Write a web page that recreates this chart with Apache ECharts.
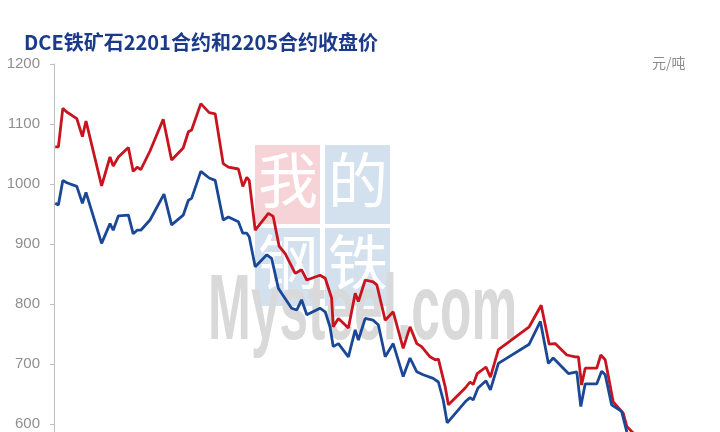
<!DOCTYPE html>
<html><head><meta charset="utf-8">
<script src="https://cdn.jsdelivr.net/npm/echarts@6/dist/echarts.min.js"></script>
<style>html,body{margin:0;padding:0;background:#fff}#c{width:720px;height:432px}</style>
</head><body><div id="c"></div>
<script>
// Trading-day position and closing prices (元/吨)
const c2201Day = [0.3,1.1,2.2,3.2,5.7,7.1,8.0,11.9,14.0,14.8,16.1,18.6,19.8,20.8,21.7,24.0,27.3,29.4,32.3,33.6,34.4,36.7,38.8,40.3,42.3,43.6,46.1,47.2,48.2,48.8,50.3,53.6,54.8,56.3,57.8,60.3,61.9,63.2,66.5,67.8,69.4,69.8,71.1,73.6,75.3,76.1,77.8,79.8,80.7,82.8,84.8,87.3,89.0,90.7,91.9,94.0,95.3,96.1,97.8,98.6,102.8,104.0,104.8,105.8,108.0,109.1,111.1,118.8,121.8,123.8,125.3,128.2,130.3,131.1,131.9,132.8,135.7,136.7,137.8,139.8,142.3,143.2,144.8];
const c2201 = [1062,1062,1126,1120,1109,1079,1105,997,1045,1030,1045,1061,1021,1028,1024,1055,1108,1040,1060,1087,1090,1134,1119,1117,1034,1028,1025,996,1011,1006,923,951,946,896,884,851,857,840,848,843,810,762,776,760,818,804,840,837,832,773,787,726,762,734,729,712,707,708,662,632,660,670,666,684,695,678,724,762,798,733,734,715,712,712,665,693,693,715,707,637,618,596,585];
const c2205Day = [0.3,1.1,2.2,3.2,5.7,7.1,8.0,11.9,14.0,14.8,16.1,18.6,19.8,20.8,21.7,24.0,27.5,29.4,32.3,33.6,34.4,36.7,38.8,40.3,42.3,43.6,46.1,47.2,48.2,48.8,50.3,53.2,54.4,56.1,56.9,59.4,60.7,61.9,63.2,66.5,67.8,69.0,69.8,71.1,73.6,75.3,76.1,77.8,79.8,81.1,82.8,84.8,87.3,89.0,90.7,92.3,94.8,96.1,97.3,98.3,102.8,104.0,104.8,106.0,108.0,109.1,111.1,118.8,121.6,123.6,124.8,128.6,130.7,131.7,132.8,135.7,136.9,137.8,139.4,141.9,143.2,144.0];
const c2205 = [968,965,1006,1002,996,968,986,901,934,923,947,948,917,923,923,940,983,932,948,973,976,1021,1010,1006,940,945,937,918,918,912,862,882,876,826,818,793,790,807,782,793,787,762,729,734,712,757,740,776,773,765,712,734,679,710,687,682,676,670,640,602,637,644,640,660,672,657,701,733,771,701,710,684,687,629,667,667,688,682,632,621,587,570];
const yTicks = [500,600,700,800,900,1000,1100,1200];

const pair = (xs, ys) => xs.map((x, i) => [x, ys[i]]);
const chart = echarts.init(document.getElementById('c'), null, {renderer: 'canvas'});
chart.setOption({
  backgroundColor: '#fff',
  animation: false,
  title: {
    text: 'DCE铁矿石2201合约和2205合约收盘价',
    left: 19, top: 27,
    textStyle: {fontSize: 20, fontWeight: 'bold', color: '#1c3a8a', fontFamily: '"Noto Sans CJK SC", sans-serif'}
  },
  graphic: [
    {type: 'rect', z: 0, shape: {x: 255, y: 145, width: 65, height: 79}, style: {fill: '#f6d3d6'}},
    {type: 'rect', z: 0, shape: {x: 325, y: 145, width: 65, height: 79}, style: {fill: '#d3e0ee'}},
    {type: 'rect', z: 0, shape: {x: 255, y: 228, width: 65, height: 78}, style: {fill: '#d3e0ee'}},
    {type: 'rect', z: 0, shape: {x: 325, y: 228, width: 65, height: 78}, style: {fill: '#d3e0ee'}},
    {type: 'text', z: 0, left: 258, top: 150, style: {text: '我', fontSize: 60, fill: '#fff', fontFamily: '"Noto Sans CJK SC"'}},
    {type: 'text', z: 0, left: 328, top: 150, style: {text: '的', fontSize: 60, fill: '#fff', fontFamily: '"Noto Sans CJK SC"'}},
    {type: 'text', z: 0, left: 258, top: 232, style: {text: '钢', fontSize: 60, fill: '#fff', fontFamily: '"Noto Sans CJK SC"'}},
    {type: 'text', z: 0, left: 328, top: 232, style: {text: '铁', fontSize: 60, fill: '#fff', fontFamily: '"Noto Sans CJK SC"'}},
    {type: 'text', z: 0, x: 208, y: 268, scaleX: 0.56, style: {text: 'Mysteel.com', fontSize: 92, fill: '#d9d9d9', fontWeight: 'bold', fontFamily: 'Liberation Sans'}},
    {type: 'text', z: 5, left: 652, top: 56, style: {text: '元/吨', fontSize: 14, fill: '#8c8c8c', fontFamily: '"Noto Sans CJK SC"'}}
  ],
  grid: {left: 52, top: 64, width: 600, height: 420, outerBoundsMode: 'none', containLabel: false},
  xAxis: {type: 'value', min: -0.5, max: 149.5, show: false},
  yAxis: {
    type: 'value', min: yTicks[0], max: yTicks[yTicks.length - 1], interval: 100,
    axisLine: {show: true, lineStyle: {color: '#bfbfbf', width: 1}},
    axisTick: {show: true, length: 4, lineStyle: {color: '#bfbfbf'}},
    splitLine: {show: false},
    axisLabel: {color: '#8f8f8f', fontSize: 15, margin: 12, fontFamily: 'Liberation Sans', formatter: v => String(v)}
  },
  series: [
    {name: '2201', type: 'line', data: pair(c2201Day, c2201), symbol: 'none', lineStyle: {color: '#c8141e', width: 2.8}, z: 3},
    {name: '2205', type: 'line', data: pair(c2205Day, c2205), symbol: 'none', lineStyle: {color: '#1a4896', width: 2.8}, z: 3}
  ]
});
</script></body></html>
